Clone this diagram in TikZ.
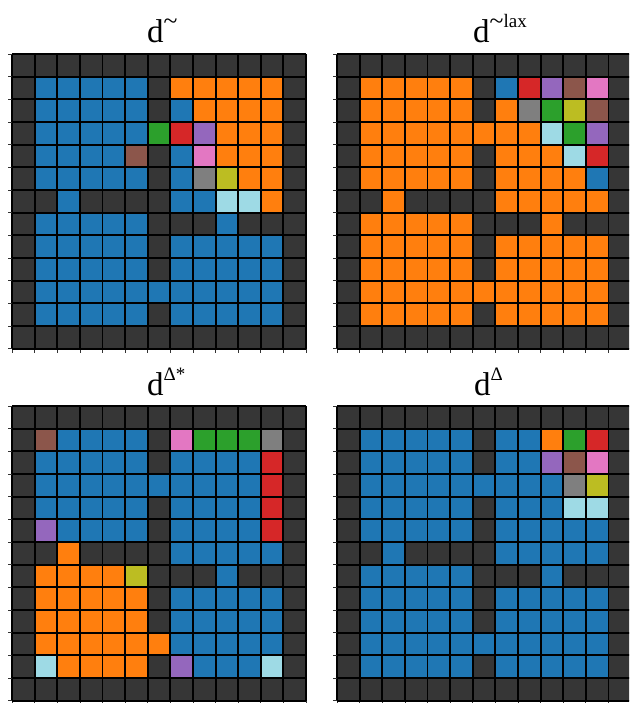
\documentclass[tikz,border=0pt]{standalone}
\usepackage{fontspec}
\setmainfont{Liberation Serif}

% cell colours of the room plots
\definecolor{clw}{HTML}{363636}
\definecolor{clb}{HTML}{1F77B4}
\definecolor{clo}{HTML}{FF7F0E}
\definecolor{clg}{HTML}{2CA02C}
\definecolor{clr}{HTML}{D62728}
\definecolor{clp}{HTML}{9467BD}
\definecolor{cln}{HTML}{8C564B}
\definecolor{clk}{HTML}{E377C2}
\definecolor{cly}{HTML}{7F7F7F}
\definecolor{cll}{HTML}{BCBD22}
\definecolor{clc}{HTML}{9EDAE5}

% raised, smaller part of a panel title
\newcommand{\titlesup}[1]{\raisebox{15pt}{\fontsize{19}{19}\selectfont #1}}
\newcommand{\titletilde}{\raisebox{-1.5pt}{\scalebox{1.35}{\textasciitilde}}}

% one 13x13 room plot: #1,#2 = top left corner (px), #3 = rows of cell colours
\newcommand{\roomgrid}[3]{%
  \begin{scope}[xshift=#1pt, yshift=-#2pt, x=22.62pt, y=-22.66pt]
    \foreach \cells [count=\r from 0] in {#3} {
      \foreach \c [count=\k from 0] in \cells
        \fill[fill=cl\c] (\k,\r) rectangle ++(1,1);
    }
    \foreach \i in {0,...,13} {
      \draw[gridline] (\i,0) -- (\i,13);
      \draw[gridline] (0,\i) -- (13,\i);
      \draw[tick] (0,\i) -- ++(-4pt,0);
      \draw[tick] (\i,13) -- ++(0,-4pt);
    }
  \end{scope}}

\begin{document}
\begin{tikzpicture}[
  x=1pt, y=-1pt,
  title/.style={anchor=base west, inner sep=0pt, font=\fontsize{33}{36}\selectfont},
  gridline/.style={draw=black, line width=1.9pt},
  tick/.style={draw=black!80, line width=0.7pt}]

  \useasboundingbox (0,0) rectangle (629,703);
  \clip (0,0) rectangle (629,703);

  % --- titles ---
  \node[title] (tildetitle)     at (147,43)  {d\titlesup{\titletilde}};
  \node[title] (laxtitle)       at (473,43)  {d\titlesup{\titletilde lax}};
  \node[title] (deltastartitle) at (147,395) {d\titlesup{Δ*}};
  \node[title] (deltatitle)     at (474,395) {d\titlesup{Δ}};

  % --- top left: d~ ---
  \roomgrid{12}{54}{
    {w,w,w,w,w,w,w,w,w,w,w,w,w},
    {w,b,b,b,b,b,w,o,o,o,o,o,w},
    {w,b,b,b,b,b,w,b,o,o,o,o,w},
    {w,b,b,b,b,b,g,r,p,o,o,o,w},
    {w,b,b,b,b,n,w,b,k,o,o,o,w},
    {w,b,b,b,b,b,w,b,y,l,o,o,w},
    {w,w,b,w,w,w,w,b,b,c,c,o,w},
    {w,b,b,b,b,b,w,w,w,b,w,w,w},
    {w,b,b,b,b,b,w,b,b,b,b,b,w},
    {w,b,b,b,b,b,w,b,b,b,b,b,w},
    {w,b,b,b,b,b,b,b,b,b,b,b,w},
    {w,b,b,b,b,b,w,b,b,b,b,b,w},
    {w,w,w,w,w,w,w,w,w,w,w,w,w}}

  % --- top right: d~lax ---
  \roomgrid{337}{54}{
    {w,w,w,w,w,w,w,w,w,w,w,w,w},
    {w,o,o,o,o,o,w,b,r,p,n,k,w},
    {w,o,o,o,o,o,w,o,y,g,l,n,w},
    {w,o,o,o,o,o,o,o,o,c,g,p,w},
    {w,o,o,o,o,o,w,o,o,o,c,r,w},
    {w,o,o,o,o,o,w,o,o,o,o,b,w},
    {w,w,o,w,w,w,w,o,o,o,o,o,w},
    {w,o,o,o,o,o,w,w,w,o,w,w,w},
    {w,o,o,o,o,o,w,o,o,o,o,o,w},
    {w,o,o,o,o,o,w,o,o,o,o,o,w},
    {w,o,o,o,o,o,o,o,o,o,o,o,w},
    {w,o,o,o,o,o,w,o,o,o,o,o,w},
    {w,w,w,w,w,w,w,w,w,w,w,w,w}}

  % --- bottom left: d^Delta* ---
  \roomgrid{12}{406}{
    {w,w,w,w,w,w,w,w,w,w,w,w,w},
    {w,n,b,b,b,b,w,k,g,g,g,y,w},
    {w,b,b,b,b,b,w,b,b,b,b,r,w},
    {w,b,b,b,b,b,b,b,b,b,b,r,w},
    {w,b,b,b,b,b,w,b,b,b,b,r,w},
    {w,p,b,b,b,b,w,b,b,b,b,r,w},
    {w,w,o,w,w,w,w,b,b,b,b,b,w},
    {w,o,o,o,o,l,w,w,w,b,w,w,w},
    {w,o,o,o,o,o,w,b,b,b,b,b,w},
    {w,o,o,o,o,o,w,b,b,b,b,b,w},
    {w,o,o,o,o,o,o,b,b,b,b,b,w},
    {w,c,o,o,o,o,w,p,b,b,b,c,w},
    {w,w,w,w,w,w,w,w,w,w,w,w,w}}

  % --- bottom right: d^Delta ---
  \roomgrid{337}{406}{
    {w,w,w,w,w,w,w,w,w,w,w,w,w},
    {w,b,b,b,b,b,w,b,b,o,g,r,w},
    {w,b,b,b,b,b,w,b,b,p,n,k,w},
    {w,b,b,b,b,b,b,b,b,b,y,l,w},
    {w,b,b,b,b,b,w,b,b,b,c,c,w},
    {w,b,b,b,b,b,w,b,b,b,b,b,w},
    {w,w,b,w,w,w,w,b,b,b,b,b,w},
    {w,b,b,b,b,b,w,w,w,b,w,w,w},
    {w,b,b,b,b,b,w,b,b,b,b,b,w},
    {w,b,b,b,b,b,w,b,b,b,b,b,w},
    {w,b,b,b,b,b,b,b,b,b,b,b,w},
    {w,b,b,b,b,b,w,b,b,b,b,b,w},
    {w,w,w,w,w,w,w,w,w,w,w,w,w}}

\end{tikzpicture}
\end{document}
